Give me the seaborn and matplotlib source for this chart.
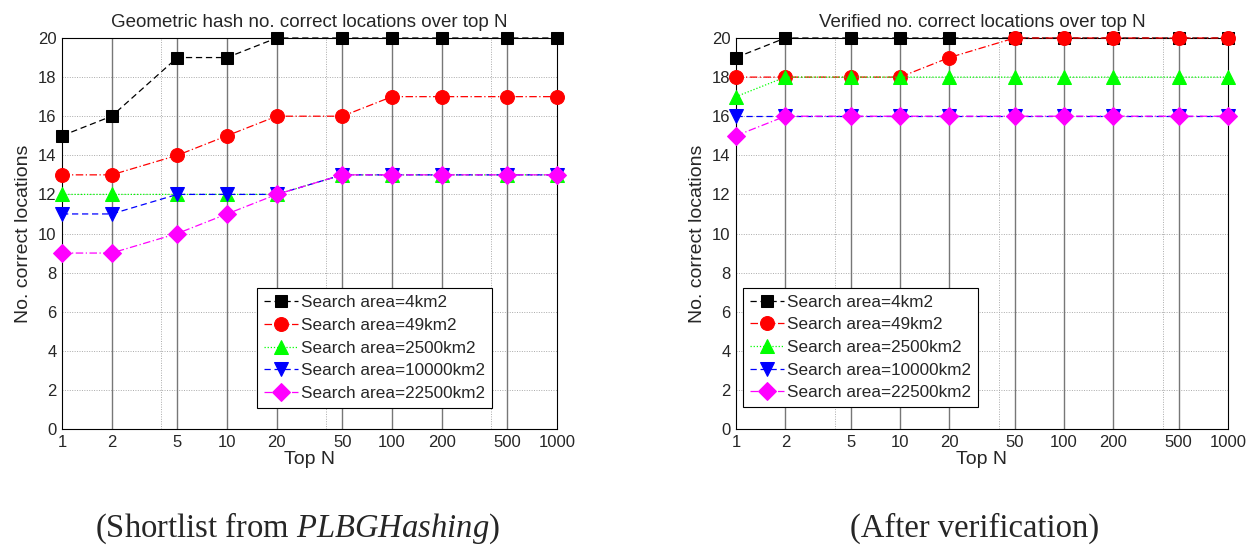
import matplotlib
matplotlib.use("Agg")
import matplotlib.pyplot as plt
import seaborn as sns
import numpy as np

top_n = [1, 2, 5, 10, 20, 50, 100, 200, 500, 1000]
tick_labels = ["1", "2", "5", "10", "20", "50", "100", "200", "500", "1000"]
series_names = ["Search area=4km2", "Search area=49km2", "Search area=2500km2",
                "Search area=10000km2", "Search area=22500km2"]

hash_4 = [15, 16, 19, 19, 20, 20, 20, 20, 20, 20]
hash_49 = [13, 13, 14, 15, 16, 16, 17, 17, 17, 17]
hash_2500 = [12, 12, 12, 12, 12, 13, 13, 13, 13, 13]
hash_10000 = [11, 11, 12, 12, 12, 13, 13, 13, 13, 13]
hash_22500 = [9, 9, 10, 11, 12, 13, 13, 13, 13, 13]

ver_4 = [19, 20, 20, 20, 20, 20, 20, 20, 20, 20]
ver_49 = [18, 18, 18, 18, 19, 20, 20, 20, 20, 20]
ver_2500 = [17, 18, 18, 18, 18, 18, 18, 18, 18, 18]
ver_10000 = [16, 16, 16, 16, 16, 16, 16, 16, 16, 16]
ver_22500 = [15, 16, 16, 16, 16, 16, 16, 16, 16, 16]

y_ticks = list(range(0, 21, 2))

sns.set_style("white")
plt.rcParams["font.family"] = ["Liberation Sans", "DejaVu Sans"]
plt.rcParams["mathtext.fontset"] = "custom"
plt.rcParams["mathtext.rm"] = "Liberation Serif"
plt.rcParams["mathtext.it"] = "Liberation Serif:italic"

styles = [
    dict(color="black", marker="s", linestyle=(0, (5, 3))),
    dict(color="red", marker="o", linestyle=(0, (6, 2, 1, 2))),
    dict(color="#00ff00", marker="^", linestyle=(0, (1, 1.5))),
    dict(color="blue", marker="v", linestyle=(0, (5, 3))),
    dict(color="magenta", marker="D", linestyle=(0, (6, 2, 1, 2))),
]
msizes = [9, 10, 10, 10, 9]

fig = plt.figure(figsize=(12.6, 5.45), dpi=100)
ax1 = fig.add_axes([62 / 1260, 1 - 429 / 545, 495 / 1260, 391 / 545])
ax2 = fig.add_axes([736 / 1260, 1 - 429 / 545, 492 / 1260, 391 / 545])


def draw(ax, data, title, leg_anchor):
    for xv in [1, 4, 40, 400]:
        ax.axvline(xv, color="#aaaaaa", linestyle=(0, (1, 1.5)), linewidth=0.7, zorder=0)
    for yv in y_ticks:
        ax.axhline(yv, color="#aaaaaa", linestyle=(0, (1, 1.5)), linewidth=0.7, zorder=0)
    for xv in top_n[1:-1]:
        ax.axvline(xv, color="#777777", linestyle="-", linewidth=1.0, zorder=1)
    for vals, name, st, ms in zip(data, series_names, styles, msizes):
        sns.lineplot(x=top_n, y=vals, ax=ax, color=st["color"], marker=st["marker"],
                     linestyle=st["linestyle"], linewidth=0.9, markersize=ms,
                     markeredgecolor=st["color"], label=name, zorder=3, clip_on=False)
    ax.set_xscale("log")
    ax.set_xlim(1, 1000)
    ax.set_ylim(0, 20)
    ax.set_xticks(top_n)
    ax.set_xticklabels(tick_labels)
    ax.xaxis.set_minor_locator(matplotlib.ticker.NullLocator())
    ax.set_yticks(y_ticks)
    ax.tick_params(axis="both", labelsize=12, direction="in", length=4, width=0.7, pad=4)
    ax.set_xlabel("Top N", fontsize=14, labelpad=1)
    ax.set_ylabel("No. correct locations", fontsize=14, labelpad=4)
    ax.set_title(title, fontsize=13.5, pad=8)
    for sp in ax.spines.values():
        sp.set_color("black")
        sp.set_linewidth(0.8)
        sp.set_zorder(2)
    leg = ax.legend(loc="lower left", bbox_to_anchor=leg_anchor, borderaxespad=0,
                    fontsize=12.3, handlelength=2.0, handletextpad=0.2, labelspacing=0.45,
                    borderpad=0.4, fancybox=False, framealpha=1, edgecolor="black")
    leg.get_frame().set_linewidth(0.8)
    leg.set_zorder(5)


draw(ax1, [hash_4, hash_49, hash_2500, hash_10000, hash_22500],
     "Geometric hash no. correct locations over top N", (0.394, 0.054))
draw(ax2, [ver_4, ver_49, ver_2500, ver_10000, ver_22500],
     "Verified no. correct locations over top N", (0.014, 0.056))

fig.text(297 / 1260, 8 / 545, "(Shortlist from $\\mathit{PLBGHashing}$)", family="Liberation Serif",
         fontsize=23.5, ha="center", va="baseline")
fig.text(975 / 1260, 8 / 545, "(After verification)", family="Liberation Serif",
         fontsize=23.5, ha="center", va="baseline")

fig.savefig("out.png", dpi=100)
